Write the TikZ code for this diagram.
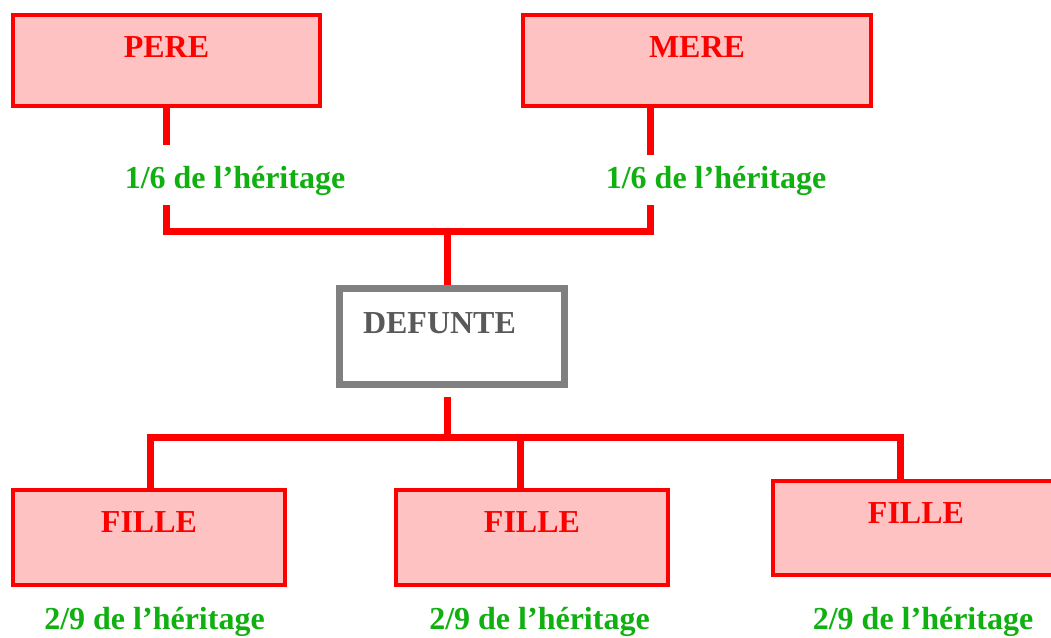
\documentclass[tikz,border=0pt]{standalone}
\usepackage{fontspec}
\setmainfont{Liberation Serif}
\definecolor{boxfill}{RGB}{255,194,194}
\definecolor{sharegreen}{RGB}{16,176,16}
\definecolor{frame}{RGB}{128,128,128}
\definecolor{darktext}{RGB}{89,89,89}
\tikzset{
  kinbox/.style={draw=red, fill=boxfill, line width=4pt, inner sep=0pt,
    rectangle, text=red, font=\fontsize{32}{36}\selectfont\bfseries},
  deadbox/.style={draw=frame, fill=white, line width=7pt, inner sep=0pt,
    rectangle, text=darktext, font=\fontsize{32}{36}\selectfont\bfseries},
  share/.style={text=sharegreen, inner sep=0pt, anchor=base,
    font=\fontsize{32}{36}\selectfont\bfseries},
  link/.style={draw=red, line width=7pt, line join=miter}
}
\begin{document}
\begin{tikzpicture}[x=1pt, y=-1pt]
\clip (0,0) rectangle (1051,637);
\fill[white] (0,0) rectangle (1051,637);

% parents
\node[kinbox, minimum width=307pt, minimum height=91pt,
      text height=42pt, text depth=49pt] (pere) at (166.5,60.5) {PERE};
\node[kinbox, minimum width=348pt, minimum height=91pt,
      text height=42pt, text depth=49pt] (mere) at (697,60.5) {MERE};

% deceased
\node[deadbox, text width=225pt, minimum height=96pt, align=left,
      text height=44.5pt, text depth=51.5pt] (defunte) at (452,336.5)
      {\hspace*{23.5pt}DEFUNTE};

% daughters
\node[kinbox, minimum width=272pt, minimum height=95pt,
      text height=42pt, text depth=53pt] (fille1) at (149,537.5) {FILLE};
\node[kinbox, minimum width=272pt, minimum height=95pt,
      text height=42pt, text depth=53pt] (fille2) at (532,537.5) {FILLE};
\node[kinbox, minimum width=286pt, minimum height=94pt,
      text height=42pt, text depth=52pt] (fille3) at (916,528) {FILLE};

% shares
\node[share] (sp) at (235,188) {1/6 de l’héritage};
\node[share] (sm) at (716,188) {1/6 de l’héritage};
\node[share] (s1) at (154.5,629) {2/9 de l’héritage};
\node[share] (s2) at (539.5,629) {2/9 de l’héritage};
\node[share] (s3) at (923,629) {2/9 de l’héritage};

% junction points of the tree
\coordinate (pa) at (166,145);
\coordinate (pb) at (166,205);
\coordinate (pj) at (166,231);
\coordinate (ma) at (650,106);
\coordinate (mb) at (650,155);
\coordinate (mc) at (650,205);
\coordinate (mj) at (650,231);
\coordinate (dj) at (447,231);
\coordinate (da) at (447,397);
\coordinate (dk) at (447,437);
\coordinate (f1j) at (150,437);
\coordinate (f2j) at (520,437);
\coordinate (f3j) at (900,437);

% upper branches
\draw[link] (pere.south -| pa) -- (pa);
\draw[link] (ma) -- (mb);
\draw[link] (pb) -- (pj) -- (mj) -- (mc);
\draw[link] (dj) -- (dj |- defunte.north);

% lower branches
\draw[link] (da) -- (dk);
\draw[link] (fille1.north -| f1j) -- (f1j) -- (f3j) -- (fille3.north -| f3j);
\draw[link] (f2j) -- (fille2.north -| f2j);
\end{tikzpicture}
\end{document}
